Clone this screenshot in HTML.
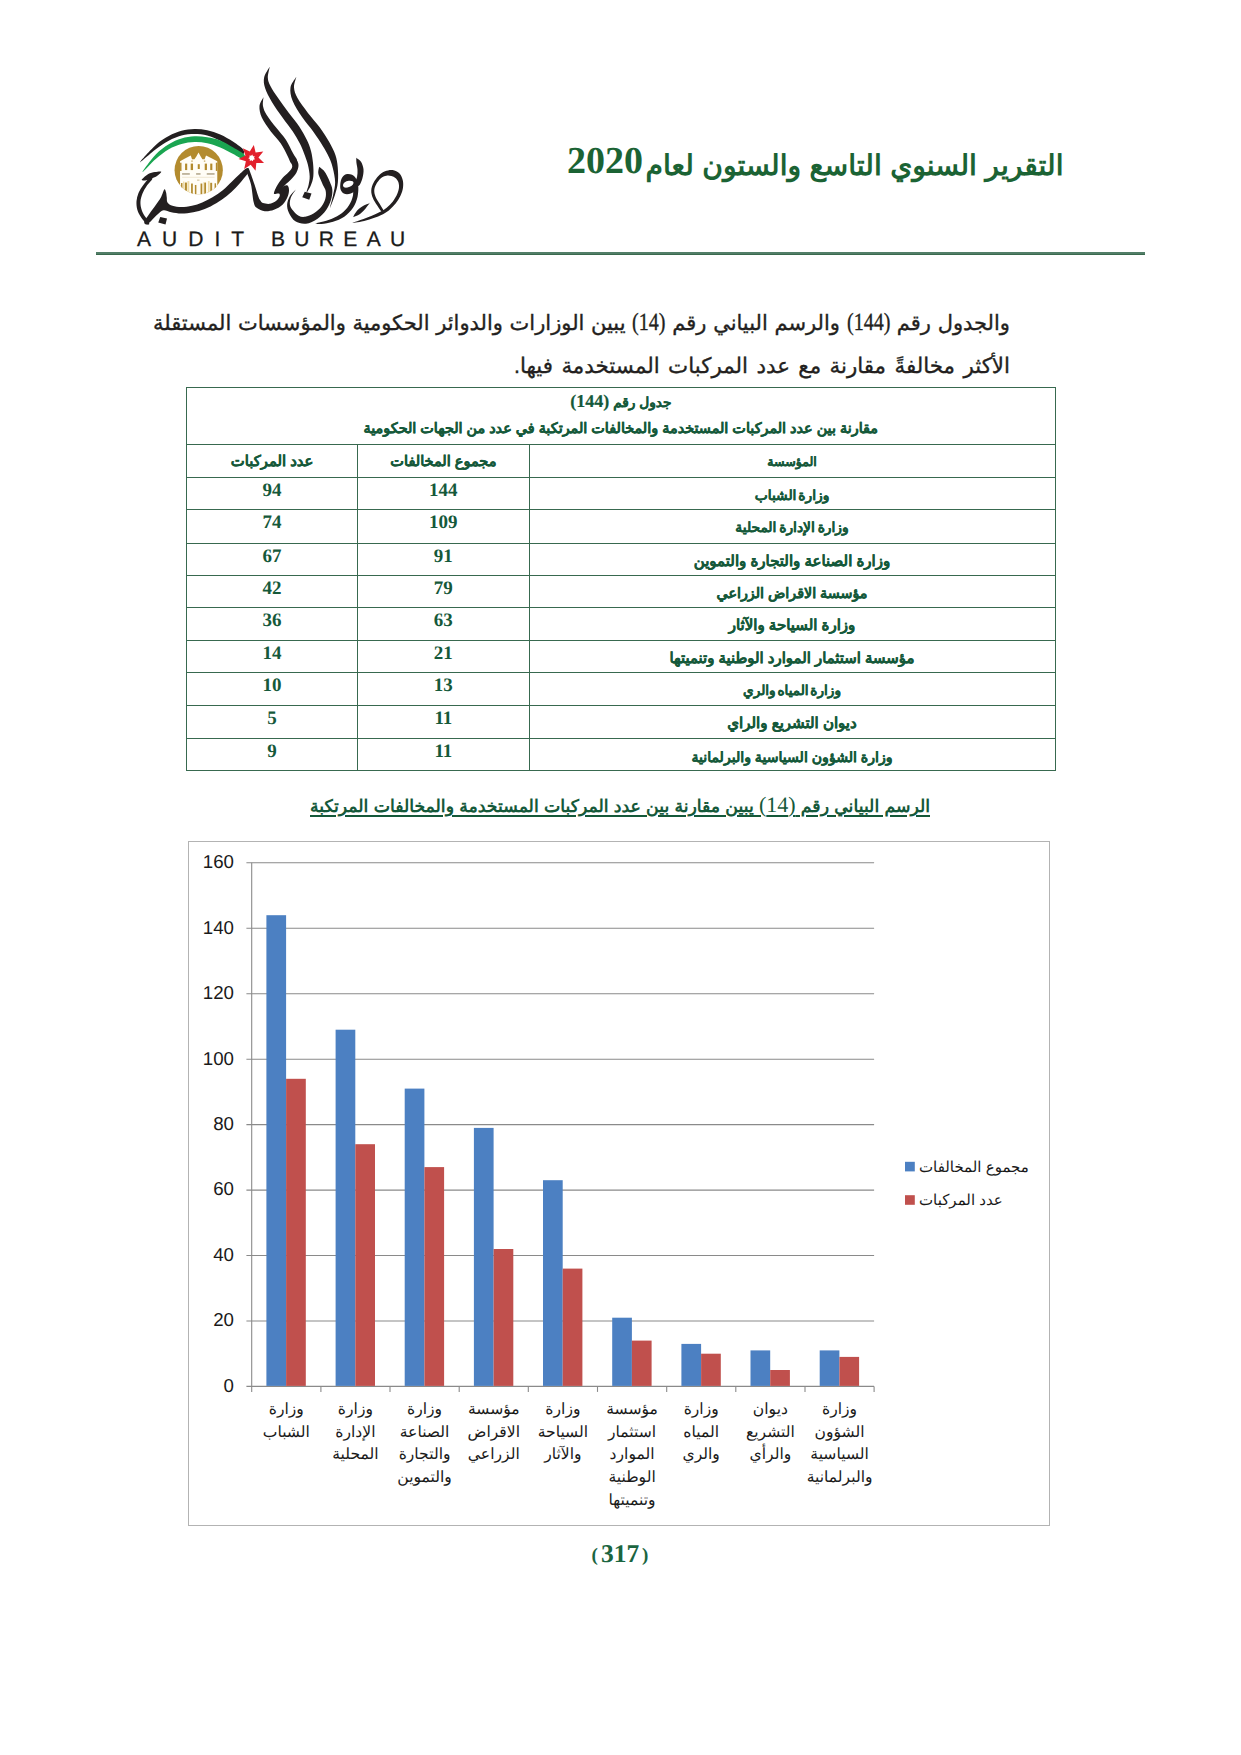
<!DOCTYPE html>
<html lang="ar">
<head>
<meta charset="utf-8">
<title>التقرير السنوي التاسع والستون لعام 2020</title>
<style>
*{box-sizing:border-box;margin:0;padding:0}
html,body{width:1241px;height:1755px;background:#fff;overflow:hidden}
body{font-family:"Liberation Sans",sans-serif;color:#231f20;position:relative;text-rendering:geometricPrecision}
.abs{position:absolute}
.serif{font-family:"Liberation Serif",serif}
/* header */
#logo{position:absolute;left:120px;top:60px;width:310px;height:200px}
.audit{position:absolute;top:226.5px;font-size:21px;line-height:26px;-webkit-text-stroke:.3px #1a1a1a;color:#1a1a1a;white-space:nowrap}
#title{position:absolute;left:560px;top:140px;width:504px;height:50px;white-space:nowrap;color:#1b6334;font-weight:bold;font-size:28.2px;line-height:50px;direction:rtl;text-align:right}
#title .ar{position:absolute;right:0.5px;top:0;width:418px;text-align:justify;text-align-last:justify}
#title .yr{position:absolute;left:7px;top:-4px;font-family:"Liberation Serif",serif;font-size:38px;font-weight:bold;direction:ltr}
#rule{position:absolute;left:96px;top:252px;width:1048.5px;height:3px;background:linear-gradient(#527e68 0,#527e68 66%,#3a6a4e 66%)}
/* paragraph */
.pl{position:absolute;right:231px;direction:rtl;white-space:nowrap;font-size:21.4px;line-height:30px;height:30px;text-align:justify;text-align-last:justify;color:#231f20;-webkit-text-stroke:.35px #231f20}
.num{display:inline-block;font-family:"Liberation Serif",serif;font-size:24.8px;line-height:0;transform:scaleX(.81);transform-origin:0 50%;direction:ltr}
.nw{display:inline-block;text-align:left;direction:ltr;white-space:nowrap;line-height:0}
/* table */
#tbl{position:absolute;left:186px;top:387px;width:868.5px;border-collapse:collapse;direction:rtl;table-layout:fixed;color:#15593a;font-weight:bold}
#tbl td{border:1.3px solid #38694f;text-align:center;vertical-align:top;padding:0;white-space:nowrap;overflow:hidden}
#tbl td.n{font-family:"Liberation Serif",serif;font-size:19px;line-height:20px;padding-top:3px}
#tbl td.a{-webkit-text-stroke:.2px #15593a;font-size:14.5px;line-height:20px;padding-top:7.5px}
#tbl td.h{-webkit-text-stroke:.2px #15593a;font-size:14.6px;line-height:20px;padding-top:7px}
#tbl td.t{-webkit-text-stroke:.2px #15593a;font-size:14.4px;line-height:26px;padding-top:0}
/* chart title */
#ct{position:absolute;left:310px;top:790px;width:620px;height:30px;direction:rtl;white-space:nowrap;font-weight:bold;font-size:17.3px;line-height:30px;color:#15593a;text-align:justify;text-align-last:justify;text-decoration:underline;text-decoration-thickness:1.5px;text-underline-offset:3px}
/* chart */
#chart{position:absolute;left:188px;top:840.5px;width:862px;height:685px;border:1.2px solid #b3b3b3;background:#fff}
#chart svg{position:absolute;left:-189.2px;top:-841.7px}
.cl{position:absolute;width:80px;text-align:center;direction:rtl;font-size:15.6px;line-height:22.6px;color:#1a1a1a;top:1399.3px;white-space:nowrap}
.lg{position:absolute;left:919px;direction:rtl;font-size:15px;line-height:20px;color:#1a1a1a;white-space:nowrap;text-align:left}
/* footer */
#pn{position:absolute;left:585px;top:1539px;width:70px;height:30px;white-space:nowrap;color:#1b6540;font-family:"Liberation Serif",serif;font-weight:bold;font-size:25.5px;line-height:30px}
#pn b{position:absolute;left:15.9px;top:0}
#pn span{position:absolute;font-size:19px;top:2px}
</style>
</head>
<body>
<header>
<svg id="logo" viewBox="0 0 1240 800"><!--LOGO-->
<circle cx="314.8" cy="440.5" r="96.5" fill="#b38b2e"/>
<clipPath id="cc"><circle cx="314.8" cy="440.5" r="96.5"/></clipPath><g clip-path="url(#cc)">
<path d="M240.2,405.1L258.0,394.5L283.2,381.5L288.0,397.4L297.7,397.4L305.4,385.8L314.1,369.9L322.8,385.8L329.6,397.4L338.3,397.4L344.1,381.5L370.2,394.5L389.1,405.1L389.1,552.1L240.2,552.1Z" fill="#fffdf6"/>
<rect x="240.2" y="410.9" width="5.8" height="32.9" fill="#b38b2e"/>
<rect x="383.3" y="410.9" width="5.8" height="32.9" fill="#b38b2e"/>
<rect x="260.3" y="414.4" width="8.5" height="25.9" fill="#b38b2e"/>
<rect x="282.8" y="414.4" width="9.3" height="25.9" fill="#b38b2e"/>
<rect x="311.0" y="416.7" width="8.1" height="19.3" fill="#b38b2e"/>
<rect x="338.9" y="414.4" width="8.9" height="25.9" fill="#b38b2e"/>
<rect x="360.9" y="414.4" width="8.5" height="25.9" fill="#b38b2e"/>
<rect x="285.1" y="401.2" width="5.8" height="6.8" fill="#b38b2e" opacity="0.55"/>
<rect x="335.4" y="401.2" width="5.8" height="6.8" fill="#b38b2e" opacity="0.55"/>
<rect x="248.3" y="453.1" width="30.9" height="5.4" fill="#a89a7c"/>
<rect x="304.4" y="453.1" width="17.8" height="5.4" fill="#a89a7c"/>
<rect x="347.0" y="453.1" width="31.3" height="5.4" fill="#a89a7c"/>
<rect x="248.3" y="467.4" width="130.0" height="2.7" fill="#e8dcc0"/>
<rect x="308.3" y="478.6" width="9.7" height="3.9" fill="#c9b98f"/>
<rect x="244.1" y="492.1" width="5.8" height="60.0" fill="#b38b2e"/>
<rect x="259.2" y="490.2" width="8.5" height="61.9" fill="#b38b2e"/>
<rect x="284.3" y="494.1" width="7.0" height="58.0" fill="#b38b2e"/>
<rect x="299.4" y="499.9" width="6.2" height="52.2" fill="#b38b2e"/>
<rect x="322.2" y="494.1" width="7.0" height="58.0" fill="#b38b2e"/>
<rect x="336.9" y="490.2" width="7.3" height="61.9" fill="#b38b2e"/>
<rect x="360.9" y="491.2" width="7.7" height="60.9" fill="#b38b2e"/>
<rect x="378.3" y="493.1" width="5.8" height="59.0" fill="#b38b2e"/>
<rect x="251.8" y="486.3" width="5.4" height="65.8" fill="#efdca6"/>
<rect x="269.6" y="484.4" width="7.7" height="67.7" fill="#efdca6"/>
<rect x="333.4" y="488.3" width="2.7" height="63.8" fill="#efdca6"/>
<rect x="351.6" y="484.4" width="7.0" height="67.7" fill="#efdca6"/>
</g>
<path d="M80.0,409.0C80.0,406.2 123.8,357.5 143.0,340.0C162.2,322.5 177.8,313.5 195.0,304.0C212.2,294.5 228.8,287.7 246.0,283.0C263.2,278.3 280.8,276.3 298.0,276.0C315.2,275.7 331.8,277.3 349.0,281.0C366.2,284.7 383.7,290.3 401.0,298.0C418.3,305.7 437.5,316.7 453.0,327.0C468.5,337.3 488.3,350.8 494.0,360.0C499.7,369.2 493.8,382.7 487.0,382.0C480.2,381.3 467.3,365.8 453.0,356.0C438.7,346.2 418.3,332.0 401.0,323.0C383.7,314.0 366.2,306.5 349.0,302.0C331.8,297.5 315.2,296.0 298.0,296.0C280.8,296.0 263.2,297.5 246.0,302.0C228.8,306.5 212.2,313.8 195.0,323.0C177.8,332.2 162.2,342.7 143.0,357.0C123.8,371.3 80.0,411.8 80.0,409.0Z" fill="#231f20"/>
<path d="M90.0,448.0C90.0,445.0 125.5,396.5 143.0,378.0C160.5,359.5 177.8,347.7 195.0,337.0C212.2,326.3 228.8,319.3 246.0,314.0C263.2,308.7 280.8,305.8 298.0,305.0C315.2,304.2 331.8,306.2 349.0,309.0C366.2,311.8 383.7,315.2 401.0,322.0C418.3,328.8 437.0,340.7 453.0,350.0C469.0,359.3 490.5,370.2 497.0,378.0C503.5,385.8 499.3,397.3 492.0,397.0C484.7,396.7 468.2,383.8 453.0,376.0C437.8,368.2 418.3,357.2 401.0,350.0C383.7,342.8 366.2,336.7 349.0,333.0C331.8,329.3 315.2,327.5 298.0,328.0C280.8,328.5 263.2,331.2 246.0,336.0C228.8,340.8 212.2,347.0 195.0,357.0C177.8,367.0 160.5,380.8 143.0,396.0C125.5,411.2 90.0,451.0 90.0,448.0Z" fill="#1aa551"/>
<path d="M597.5,28.8C593.9,35.5 579.6,55.4 576.7,69.4C573.8,83.3 575.1,95.9 580.3,112.3C585.4,128.7 596.1,148.4 607.6,167.9C619.1,187.4 635.4,209.7 649.2,229.2C663.1,248.8 678.9,267.8 690.5,285.1C702.1,302.4 711.3,318.5 718.9,333.0C726.5,347.6 730.5,358.2 736.0,372.5C741.4,386.7 747.9,403.3 751.6,418.7C755.4,434.1 758.2,451.4 758.7,464.7C759.1,478.1 756.5,488.5 754.5,498.7C752.5,508.8 747.5,520.8 746.6,525.4C745.8,530.1 746.6,530.6 749.4,526.6C752.2,522.6 759.5,511.6 763.5,501.3C767.5,491.1 771.9,479.6 773.3,465.3C774.8,450.9 773.9,432.2 772.4,415.3C770.8,398.3 768.2,379.6 764.0,363.5C759.8,347.5 754.8,335.1 747.1,319.0C739.3,302.9 729.6,285.0 717.5,266.9C705.5,248.9 688.9,229.9 674.8,210.8C660.6,191.6 644.6,170.0 632.4,152.1C620.2,134.3 608.6,117.3 601.7,103.7C594.9,90.1 591.9,83.1 591.3,70.6C590.8,58.2 597.4,36.1 598.5,29.2C599.5,22.2 601.2,22.1 597.5,28.8Z" fill="#231f20"/>
<path d="M572.5,150.9C569.9,156.6 558.7,172.2 557.9,185.4C557.0,198.6 559.8,213.5 567.2,230.1C574.7,246.7 589.9,267.8 602.5,284.9C615.0,302.1 631.2,316.6 642.5,333.1C653.8,349.5 663.0,370.3 670.3,383.7C677.6,397.2 680.1,410.6 686.3,413.7C692.5,416.8 706.8,409.2 707.7,402.3C708.6,395.4 699.0,386.2 691.7,372.3C684.3,358.4 674.8,336.1 663.5,318.9C652.1,301.7 636.3,285.6 623.5,269.1C610.8,252.6 595.3,234.0 586.8,219.9C578.2,205.8 574.4,196.1 572.1,184.6C569.9,173.1 573.4,156.7 573.5,151.1C573.5,145.5 575.1,145.2 572.5,150.9Z" fill="#231f20"/>
<path d="M680.0,396.0C677.7,401.0 689.7,417.5 689.0,426.0C688.3,434.5 682.5,439.3 676.0,447.0C669.5,454.7 658.2,462.3 650.0,472.0C641.8,481.7 632.7,494.5 627.0,505.0C621.3,515.5 614.0,532.0 616.0,535.0C618.0,538.0 631.3,529.2 639.0,523.0C646.7,516.8 654.7,505.3 662.0,498.0C669.3,490.7 675.8,486.7 683.0,479.0C690.2,471.3 699.8,461.8 705.0,452.0C710.2,442.2 714.3,429.3 714.0,420.0C713.7,410.7 708.7,400.0 703.0,396.0C697.3,392.0 682.3,391.0 680.0,396.0Z" fill="#231f20"/>
<path d="M671.0,503.0C674.3,506.0 676.2,514.5 676.0,522.0C675.8,529.5 674.3,538.5 670.0,548.0C665.7,557.5 659.0,570.5 650.0,579.0C641.0,587.5 627.8,594.7 616.0,599.0C604.2,603.3 590.3,606.2 579.0,605.0C567.7,603.8 555.3,597.8 548.0,592.0C540.7,586.2 539.0,585.7 535.0,570.0C531.0,554.3 528.8,519.0 524.0,498.0C519.2,477.0 508.0,455.0 506.0,444.0C504.0,433.0 509.8,432.0 512.0,432.0C514.2,432.0 514.7,433.0 519.0,444.0C523.3,455.0 532.3,481.2 538.0,498.0C543.7,514.8 549.3,534.7 553.0,545.0C556.7,555.3 556.8,555.5 560.0,560.0C563.2,564.5 565.3,569.5 572.0,572.0C578.7,574.5 591.2,576.5 600.0,575.0C608.8,573.5 618.7,567.8 625.0,563.0C631.3,558.2 636.2,550.8 638.0,546.0C639.8,541.2 639.7,535.8 636.0,534.0C632.3,532.2 615.8,537.5 616.0,535.0C616.2,532.5 630.3,524.2 637.0,519.0C643.7,513.8 650.3,506.7 656.0,504.0C661.7,501.3 667.7,500.0 671.0,503.0Z" fill="#231f20"/>
<path d="M703.5,69.8C699.8,76.4 684.3,94.4 682.0,109.7C679.8,125.0 682.3,141.8 690.0,161.6C697.7,181.4 714.3,207.5 728.2,228.4C742.1,249.3 759.6,267.9 773.4,287.1C787.3,306.3 800.6,326.5 811.1,343.6C821.6,360.8 829.8,375.3 836.4,389.9C843.1,404.6 847.1,415.1 851.1,431.6C855.1,448.1 860.3,470.8 860.5,488.8C860.8,506.7 855.9,522.6 852.6,539.1C849.3,555.7 842.4,579.7 840.5,587.9C838.7,596.0 838.3,596.0 841.5,588.1C844.6,580.3 854.4,557.3 859.4,540.9C864.4,524.4 869.6,508.0 871.5,489.2C873.4,470.5 872.5,446.6 870.9,428.4C869.2,410.2 867.2,396.7 861.6,380.1C855.9,363.4 847.4,346.9 836.9,328.4C826.4,309.9 812.7,288.4 798.6,268.9C784.4,249.4 766.6,231.0 751.8,211.6C737.1,192.2 719.3,169.3 710.0,152.4C700.7,135.5 696.9,124.0 696.0,110.3C695.1,96.6 703.2,76.9 704.5,70.2C705.7,63.4 707.3,63.2 703.5,69.8Z" fill="#231f20"/>
<path d="M796.5,428.2C795.8,432.2 792.2,443.7 793.0,451.7C793.8,459.7 798.2,468.1 801.4,476.2C804.6,484.4 808.6,493.0 812.1,500.7C815.7,508.4 821.0,513.8 822.6,522.5C824.2,531.2 824.6,542.4 821.9,552.9C819.3,563.3 814.4,575.1 806.7,585.2C799.1,595.2 786.9,606.2 775.8,613.2C764.7,620.2 750.4,625.5 740.1,627.1C729.9,628.7 722.6,627.0 714.6,622.8C706.6,618.6 698.0,609.6 692.1,602.1C686.3,594.6 680.7,587.0 679.5,577.8C678.3,568.7 681.1,556.7 684.7,547.3C688.4,537.9 698.7,525.7 701.4,521.3C704.0,516.9 704.3,516.8 700.6,520.7C696.9,524.6 684.6,535.1 679.3,544.7C673.9,554.3 669.1,567.0 668.5,578.2C667.9,589.4 670.4,600.8 675.9,611.9C681.4,623.1 690.1,638.1 701.4,645.2C712.8,652.4 729.1,656.6 743.9,654.9C758.6,653.1 776.6,644.2 790.2,634.8C803.7,625.5 816.3,611.4 825.3,598.8C834.2,586.2 840.0,572.3 844.1,559.1C848.1,545.9 850.1,531.1 849.4,519.5C848.7,507.8 843.3,498.6 839.9,489.3C836.4,480.0 832.8,471.6 828.6,463.8C824.5,455.9 820.2,448.3 815.0,442.3C809.8,436.3 800.6,430.2 797.5,427.8C794.4,425.5 797.3,424.2 796.5,428.2Z" fill="#231f20"/>
<path d="M739.0,527.0L766.0,534.0L757.0,559.0L729.0,549.0Z" fill="#231f20"/>
<path d="M945.1,393.5C945.0,396.9 945.2,405.6 946.0,413.2C946.9,420.7 949.6,429.8 950.0,438.8C950.4,447.8 950.2,457.8 948.3,467.4C946.4,477.1 937.5,490.7 938.6,496.7C939.8,502.6 950.2,507.4 955.4,503.3C960.5,499.3 966.6,483.6 969.7,472.6C972.8,461.6 974.9,448.2 974.0,437.2C973.0,426.2 968.5,414.3 964.0,406.8C959.4,399.4 950.0,394.8 946.9,392.5C943.7,390.3 945.3,390.0 945.1,393.5Z" fill="#231f20"/>
<path fill-rule="evenodd" fill="#231f20" d="M910,456 C936,455 950,474 948,498 C946,522 930,537 908,537 C889,537 879,521 881,500 C883,474 892,457 910,456Z M915,483 C902,484 893,492 892,500 C891,508 899,512 910,510 C923,508 933,500 934,492 C935,485 927,482 915,483Z"/>
<path d="M934.0,499.6C930.6,506.7 934.7,529.4 931.7,543.0C928.7,556.5 923.5,569.1 916.0,580.8C908.6,592.5 898.3,604.2 886.9,613.2C875.5,622.2 861.5,629.1 847.8,634.9C834.0,640.7 815.0,645.0 804.2,648.1C793.4,651.2 786.5,652.4 783.0,653.5C779.4,654.6 779.2,654.1 783.0,654.5C786.8,654.9 794.2,657.2 805.8,655.9C817.3,654.7 837.0,652.0 852.2,647.1C867.5,642.2 883.8,636.1 897.1,626.8C910.4,617.5 923.1,604.5 932.0,591.2C940.8,577.9 946.9,562.2 950.3,547.0C953.6,531.9 954.7,508.3 952.0,500.4C949.3,492.5 937.4,492.5 934.0,499.6Z" fill="#231f20"/>
<path d="M997.7,572.6C993.6,574.1 980.6,578.8 973.6,582.5C966.7,586.3 961.2,590.6 956.0,595.3C950.8,600.0 946.2,605.4 942.3,610.8C938.4,616.2 934.2,624.7 932.7,627.6C931.2,630.6 930.2,629.4 933.3,628.4C936.5,627.3 945.9,624.5 951.7,621.2C957.5,617.9 962.9,613.3 968.0,608.7C973.2,604.1 977.3,599.3 982.4,593.5C987.4,587.6 995.7,576.9 998.3,573.4C1000.9,569.9 1001.8,571.1 997.7,572.6Z" fill="#231f20"/>
<path d="M1055.4,604.8C1053.8,599.3 1044.6,585.4 1039.1,575.9C1033.6,566.3 1026.3,556.7 1022.6,547.8C1018.9,538.8 1016.7,530.6 1017.0,522.2C1017.3,513.9 1019.9,506.0 1024.3,497.8C1028.7,489.5 1036.5,478.6 1043.4,472.8C1050.3,466.9 1058.7,464.1 1065.8,462.6C1072.8,461.1 1079.7,462.3 1085.7,463.8C1091.7,465.3 1097.3,467.9 1101.8,471.7C1106.3,475.6 1110.5,480.5 1112.9,486.7C1115.3,492.9 1116.7,501.1 1116.0,509.1C1115.4,517.2 1113.3,525.5 1109.2,534.9C1105.1,544.4 1098.6,556.4 1091.5,565.7C1084.4,575.0 1075.7,583.3 1066.7,590.5C1057.6,597.7 1049.2,602.9 1037.1,609.2C1025.1,615.5 1007.8,622.8 994.3,628.3C980.8,633.8 966.6,638.4 956.2,642.1C945.8,645.8 935.9,649.0 931.9,650.5C927.9,652.1 927.8,651.9 932.1,651.5C936.4,651.0 946.9,650.2 957.8,647.9C968.7,645.6 983.5,642.2 997.7,637.7C1011.9,633.2 1029.9,626.9 1042.9,620.8C1055.8,614.8 1065.4,609.3 1075.3,601.5C1085.3,593.7 1094.6,584.4 1102.5,574.3C1110.4,564.2 1117.9,551.6 1122.8,541.1C1127.7,530.5 1130.6,520.8 1132.0,510.9C1133.3,500.9 1133.4,490.7 1131.1,481.3C1128.8,471.9 1125.0,461.1 1118.2,454.3C1111.4,447.4 1099.9,441.7 1090.3,440.2C1080.6,438.7 1069.5,441.6 1060.2,445.4C1050.9,449.3 1042.3,455.4 1034.6,463.2C1026.8,471.0 1018.6,482.5 1013.7,492.2C1008.7,502.0 1005.4,511.8 1005.0,521.8C1004.6,531.8 1007.5,542.2 1011.4,552.2C1015.4,562.3 1022.7,572.7 1028.9,582.1C1035.1,591.6 1044.2,605.4 1048.6,609.2C1053.0,612.9 1057.0,610.4 1055.4,604.8Z" fill="#231f20"/>
<path d="M507.0,433.0C500.7,434.8 488.0,448.0 478.0,457.0C468.0,466.0 458.2,476.3 447.0,487.0C435.8,497.7 423.8,510.7 411.0,521.0C398.2,531.3 383.7,540.8 370.0,549.0C356.3,557.2 342.7,564.3 329.0,570.0C315.3,575.7 301.8,580.0 288.0,583.0C274.2,586.0 259.0,588.0 246.0,588.0C233.0,588.0 219.3,586.0 210.0,583.0C200.7,580.0 193.8,575.7 190.0,570.0C186.2,564.3 188.0,555.8 187.0,549.0C186.0,542.2 185.7,534.2 184.0,529.0C182.3,523.8 180.3,514.7 177.0,518.0C173.7,521.3 169.7,538.7 164.0,549.0C158.3,559.3 150.8,568.8 143.0,580.0C135.2,591.2 124.7,604.8 117.0,616.0C109.3,627.2 98.7,640.0 97.0,647.0C95.3,654.0 101.8,659.2 107.0,658.0C112.2,656.8 120.7,646.8 128.0,640.0C135.3,633.2 143.3,623.5 151.0,617.0C158.7,610.5 165.0,602.3 174.0,601.0C183.0,599.7 193.0,606.8 205.0,609.0C217.0,611.2 231.3,614.0 246.0,614.0C260.7,614.0 277.5,612.0 293.0,609.0C308.5,606.0 323.7,602.0 339.0,596.0C354.3,590.0 370.3,581.7 385.0,573.0C399.7,564.3 414.0,554.3 427.0,544.0C440.0,533.7 451.8,522.5 463.0,511.0C474.2,499.5 485.2,485.8 494.0,475.0C502.8,464.2 513.8,453.0 516.0,446.0C518.2,439.0 513.3,431.2 507.0,433.0Z" fill="#231f20"/>
<path d="M89.0,476.0C93.0,471.8 104.5,460.7 113.0,456.0C121.5,451.3 131.3,449.5 140.0,448.0C148.7,446.5 163.7,444.3 165.0,447.0C166.3,449.7 154.2,459.7 148.0,464.0C141.8,468.3 135.2,470.2 128.0,473.0C120.8,475.8 111.5,479.7 105.0,481.0C98.5,482.3 91.7,481.8 89.0,481.0C86.3,480.2 85.0,480.2 89.0,476.0Z" fill="#231f20"/>
<path d="M120.0,470.0C114.2,473.8 101.7,488.7 94.0,499.0C86.3,509.3 78.7,521.0 74.0,532.0C69.3,543.0 66.8,554.0 66.0,565.0C65.2,576.0 66.5,588.2 69.0,598.0C71.5,607.8 76.3,616.0 81.0,624.0C85.7,632.0 92.3,640.3 97.0,646.0C101.7,651.7 105.7,656.5 109.0,658.0C112.3,659.5 116.8,658.2 117.0,655.0C117.2,651.8 113.5,644.8 110.0,639.0C106.5,633.2 100.2,627.5 96.0,620.0C91.8,612.5 87.3,603.2 85.0,594.0C82.7,584.8 81.2,575.0 82.0,565.0C82.8,555.0 86.0,544.0 90.0,534.0C94.0,524.0 99.5,514.7 106.0,505.0C112.5,495.3 126.7,481.8 129.0,476.0C131.3,470.2 125.8,466.2 120.0,470.0Z" fill="#231f20"/>
<path d="M161.0,628.0L188.0,634.0L182.0,658.0L153.0,650.0Z" fill="#231f20"/>
<path fill="#e2202c" d="M535.3,339.7L542.4,369.8L573.1,365.8L553.9,390.2L576.2,411.7L545.2,411.9L542.2,442.8L522.8,418.7L496.8,435.6L503.5,405.3L474.1,395.6L501.9,381.9L491.2,352.9L519.2,366.1Z"/>
<path fill="#fff" d="M529.2,378.2L532.1,384.6L539.2,385.1L536.0,391.4L540.0,397.2L533.1,398.6L531.0,405.4L525.6,400.9L519.0,403.5L519.2,396.4L513.0,392.9L518.6,388.6L517.6,381.7L524.4,383.4Z"/>
</svg>
<div class="audit" style="left:137px;letter-spacing:11.05px">AUDIT</div>
<div class="audit" style="left:270.9px;letter-spacing:9.35px">BUREAU</div>
<h1 id="title"><span class="ar">التقرير السنوي التاسع والستون لعام</span> <span class="yr">2020</span></h1>
<div id="rule"></div>
</header>
<main>
<p class="pl" style="top:309px;width:857px;font-size:21px">والجدول رقم <span class="nw" style="width:43.6px"><span class="num">(144)</span></span> والرسم البياني رقم <span class="nw" style="width:33.5px"><span class="num">(14)</span></span> يبين الوزارات والدوائر الحكومية والمؤسسات المستقلة</p>
<p class="pl" style="top:351px;width:496px">الأكثر مخالفةً مقارنة مع عدد المركبات المستخدمة فيها.</p>
<table id="tbl">
<colgroup><col style="width:526px"><col style="width:171.3px"><col style="width:171.2px"></colgroup>
<tr style="height:57px"><td class="t" colspan="3"><span style="font-size:13.7px">جدول رقم</span> <span class="serif" style="font-size:18px">(144)</span><br>مقارنة بين عدد المركبات المستخدمة والمخالفات المرتكبة في عدد من الجهات الحكومية</td></tr>
<tr style="height:33px"><td class="h" style="font-size:12.6px">المؤسسة</td><td class="h" style="font-size:14.5px">مجموع المخالفات</td><td class="h" style="font-size:14.8px">عدد المركبات</td></tr>
<tr style="height:32px"><td class="a" style="font-size:13.8px;word-spacing:-2px">وزارة الشباب</td><td class="n">144</td><td class="n">94</td></tr>
<tr style="height:34px"><td class="a" style="font-size:13.8px;word-spacing:-1px">وزارة الإدارة المحلية</td><td class="n">109</td><td class="n">74</td></tr>
<tr style="height:32px"><td class="a" style="font-size:15.0px">وزارة الصناعة والتجارة والتموين</td><td class="n">91</td><td class="n">67</td></tr>
<tr style="height:32px"><td class="a" style="font-size:14.3px">مؤسسة الاقراض الزراعي</td><td class="n">79</td><td class="n">42</td></tr>
<tr style="height:33px"><td class="a" style="font-size:15.0px">وزارة السياحة والآثار</td><td class="n">63</td><td class="n">36</td></tr>
<tr style="height:32px"><td class="a" style="font-size:14.9px">مؤسسة استثمار الموارد الوطنية وتنميتها</td><td class="n">21</td><td class="n">14</td></tr>
<tr style="height:33px"><td class="a" style="font-size:13.6px;word-spacing:-2px">وزارة المياه والري</td><td class="n">13</td><td class="n">10</td></tr>
<tr style="height:33px"><td class="a" style="font-size:15.0px">ديوان التشريع والراي</td><td class="n">11</td><td class="n">5</td></tr>
<tr style="height:32px"><td class="a" style="font-size:14.1px">وزارة الشؤون السياسية والبرلمانية</td><td class="n">11</td><td class="n">9</td></tr>
</table>
<h2 id="ct">الرسم البياني رقم <span class="serif" style="font-weight:normal;font-size:22px">(14)</span> يبين مقارنة بين عدد المركبات المستخدمة والمخالفات المرتكبة</h2>
<div id="chart">
<svg width="1241" height="1755" viewBox="0 0 1241 1755"><!--CHART--><line x1="246.4" y1="1386.4" x2="874.1" y2="1386.4" stroke="#8a8a8a" stroke-width="1.1"/>
<text x="234" y="1391.7" text-anchor="end" font-family="Liberation Sans, sans-serif" font-size="18.7" fill="#1a1a1a">0</text>
<line x1="246.4" y1="1321.0" x2="874.1" y2="1321.0" stroke="#8a8a8a" stroke-width="1.1"/>
<text x="234" y="1326.2" text-anchor="end" font-family="Liberation Sans, sans-serif" font-size="18.7" fill="#1a1a1a">20</text>
<line x1="246.4" y1="1255.5" x2="874.1" y2="1255.5" stroke="#8a8a8a" stroke-width="1.1"/>
<text x="234" y="1260.8" text-anchor="end" font-family="Liberation Sans, sans-serif" font-size="18.7" fill="#1a1a1a">40</text>
<line x1="246.4" y1="1190.1" x2="874.1" y2="1190.1" stroke="#8a8a8a" stroke-width="1.1"/>
<text x="234" y="1195.4" text-anchor="end" font-family="Liberation Sans, sans-serif" font-size="18.7" fill="#1a1a1a">60</text>
<line x1="246.4" y1="1124.6" x2="874.1" y2="1124.6" stroke="#8a8a8a" stroke-width="1.1"/>
<text x="234" y="1129.9" text-anchor="end" font-family="Liberation Sans, sans-serif" font-size="18.7" fill="#1a1a1a">80</text>
<line x1="246.4" y1="1059.2" x2="874.1" y2="1059.2" stroke="#8a8a8a" stroke-width="1.1"/>
<text x="234" y="1064.5" text-anchor="end" font-family="Liberation Sans, sans-serif" font-size="18.7" fill="#1a1a1a">100</text>
<line x1="246.4" y1="993.7" x2="874.1" y2="993.7" stroke="#8a8a8a" stroke-width="1.1"/>
<text x="234" y="999.0" text-anchor="end" font-family="Liberation Sans, sans-serif" font-size="18.7" fill="#1a1a1a">120</text>
<line x1="246.4" y1="928.3" x2="874.1" y2="928.3" stroke="#8a8a8a" stroke-width="1.1"/>
<text x="234" y="933.6" text-anchor="end" font-family="Liberation Sans, sans-serif" font-size="18.7" fill="#1a1a1a">140</text>
<line x1="246.4" y1="862.8" x2="874.1" y2="862.8" stroke="#8a8a8a" stroke-width="1.1"/>
<text x="234" y="868.1" text-anchor="end" font-family="Liberation Sans, sans-serif" font-size="18.7" fill="#1a1a1a">160</text>
<line x1="251.7" y1="862.8" x2="251.7" y2="1391.9" stroke="#8a8a8a" stroke-width="1.1"/>
<line x1="320.9" y1="1386.4" x2="320.9" y2="1391.9" stroke="#8a8a8a" stroke-width="1.1"/>
<line x1="390.0" y1="1386.4" x2="390.0" y2="1391.9" stroke="#8a8a8a" stroke-width="1.1"/>
<line x1="459.2" y1="1386.4" x2="459.2" y2="1391.9" stroke="#8a8a8a" stroke-width="1.1"/>
<line x1="528.3" y1="1386.4" x2="528.3" y2="1391.9" stroke="#8a8a8a" stroke-width="1.1"/>
<line x1="597.5" y1="1386.4" x2="597.5" y2="1391.9" stroke="#8a8a8a" stroke-width="1.1"/>
<line x1="666.7" y1="1386.4" x2="666.7" y2="1391.9" stroke="#8a8a8a" stroke-width="1.1"/>
<line x1="735.8" y1="1386.4" x2="735.8" y2="1391.9" stroke="#8a8a8a" stroke-width="1.1"/>
<line x1="805.0" y1="1386.4" x2="805.0" y2="1391.9" stroke="#8a8a8a" stroke-width="1.1"/>
<line x1="874.1" y1="1386.4" x2="874.1" y2="1391.9" stroke="#8a8a8a" stroke-width="1.1"/>
<rect x="266.4" y="915.2" width="19.7" height="470.7" fill="#4c80c2"/>
<rect x="286.1" y="1078.8" width="19.7" height="307.1" fill="#c0504d"/>
<rect x="335.6" y="1029.7" width="19.7" height="356.2" fill="#4c80c2"/>
<rect x="355.3" y="1144.2" width="19.7" height="241.7" fill="#c0504d"/>
<rect x="404.7" y="1088.6" width="19.7" height="297.3" fill="#4c80c2"/>
<rect x="424.4" y="1167.1" width="19.7" height="218.8" fill="#c0504d"/>
<rect x="473.9" y="1127.9" width="19.7" height="258.0" fill="#4c80c2"/>
<rect x="493.6" y="1249.0" width="19.7" height="136.9" fill="#c0504d"/>
<rect x="543.0" y="1180.2" width="19.7" height="205.7" fill="#4c80c2"/>
<rect x="562.7" y="1268.6" width="19.7" height="117.3" fill="#c0504d"/>
<rect x="612.2" y="1317.7" width="19.7" height="68.2" fill="#4c80c2"/>
<rect x="631.9" y="1340.6" width="19.7" height="45.3" fill="#c0504d"/>
<rect x="681.4" y="1343.9" width="19.7" height="42.0" fill="#4c80c2"/>
<rect x="701.1" y="1353.7" width="19.7" height="32.2" fill="#c0504d"/>
<rect x="750.5" y="1350.4" width="19.7" height="35.5" fill="#4c80c2"/>
<rect x="770.2" y="1370.0" width="19.7" height="15.9" fill="#c0504d"/>
<rect x="819.7" y="1350.4" width="19.7" height="35.5" fill="#4c80c2"/>
<rect x="839.4" y="1356.9" width="19.7" height="29.0" fill="#c0504d"/>
<rect x="905" y="1161.8" width="9.8" height="9.6" fill="#4c80c2"/>
<rect x="905" y="1195.2" width="9.8" height="9.6" fill="#c0504d"/>
</svg>
</div>
<!--LABELS-->
<div class="cl" style="left:246.3px">وزارة<br>الشباب</div>
<div class="cl" style="left:315.4px">وزارة<br>الإدارة<br>المحلية</div>
<div class="cl" style="left:384.6px">وزارة<br>الصناعة<br>والتجارة<br>والتموين</div>
<div class="cl" style="left:453.8px">مؤسسة<br>الاقراض<br>الزراعي</div>
<div class="cl" style="left:522.9px">وزارة<br>السياحة<br>والآثار</div>
<div class="cl" style="left:592.1px">مؤسسة<br>استثمار<br>الموارد<br>الوطنية<br>وتنميتها</div>
<div class="cl" style="left:661.2px">وزارة<br>المياه<br>والري</div>
<div class="cl" style="left:730.4px">ديوان<br>التشريع<br>والرأي</div>
<div class="cl" style="left:799.6px">وزارة<br>الشؤون<br>السياسية<br>والبرلمانية</div>
<div class="lg" style="top:1158px">مجموع المخالفات</div>
<div class="lg" style="top:1191px">عدد المركبات</div>
<!--/LABELS-->
</main>
<footer id="pn"><span style="left:6.6px">(</span><b>317</b><span style="left:57px">)</span></footer>
</body>
</html>
